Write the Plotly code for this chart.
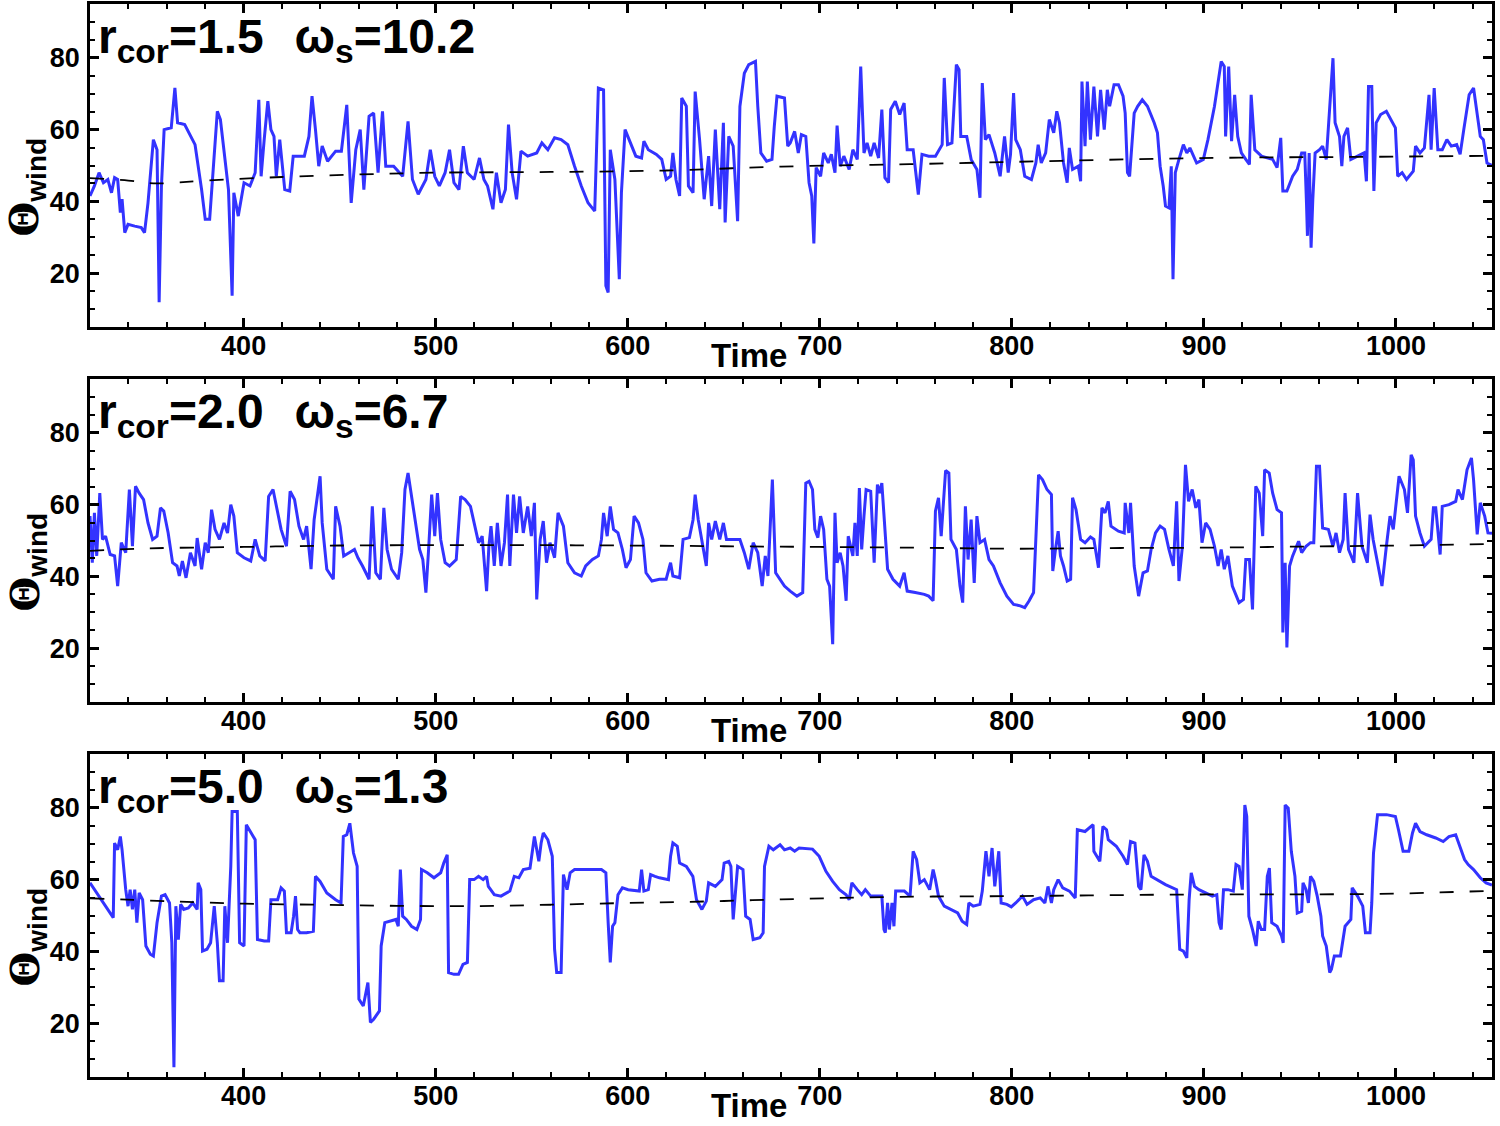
import plotly.graph_objects as go

# ---------------- data ----------------
t1 = [320,322.3,324.7,327,329.3,331.2,332.8,334.4,335.8,336.7,338.1,339.8,343.3,346.7,348.4,350.2,353,354.9,356,357.2,
      358.6,362.3,364.2,365.6,369.3,374.7,378.1,380,382.3,384.2,386.3,387.9,389.8,392.1,394,394.9,397.2,400.2,403.3,406,
      407.9,409.1,410.7,412.6,414.2,415.8,417,418.8,421.4,424,425.8,431.6,434,435.6,437.4,439.1,440.9,443.7,447.9,450.9,
      453.7,456,458.4,460.7,462.6,465.3,467.7,470,472.3,474,478.1,482.8,485.6,487.9,490.9,494.9,497.2,499.5,501.9,504.9,
      507.2,509.5,512.1,514.4,516.5,520,522.8,525.1,527,529.8,531.6,534,536.3,537.9,539.8,542.1,544.4,547.9,552.6,555.3,
      558.4,561.9,565.3,568.8,572.3,575.8,579.3,582.8,584.7,587.4,588.6,589.8,590.9,593.3,595.6,596.7,598.6,601.4,604.2,607.2,
      608.4,610.7,614.9,617.7,620,622.3,623.5,625.1,627,628.1,630.5,631.6,634,635.1,637.4,639.8,642.1,643.7,645.6,647.9,
      649.8,650.7,652.6,654.9,657.2,658.4,660.7,663,666.5,667.7,669.3,672.3,675.1,676.3,677.7,681.6,683.3,
      684.6,686.9,688.8,690.4,692.7,694.4,695.8,696.9,698.1,700.4,702,704.4,706,707.9,709,710.6,712.5,715.3,717.2,719.5,
      721.3,723,724.6,726.5,728.3,730.6,732.3,733.9,735.8,736.9,739.3,741.6,743.9,745.5,748.6,750.2,751.3,753.2,756.7,760.2,
      763.7,764.8,766.5,768.8,771.1,772.5,773.4,776.5,778.8,781.8,783.4,784.6,786.2,788.1,791.1,793.9,796.2,798.1,799.3,800.9,
      802,804.4,806.7,810.2,812.5,813.7,815.3,817.6,819.5,821.8,823.4,824.8,826.9,828.8,829.9,831.6,834.6,835.8,836.5,838.1,
      839.3,840.9,842.7,844.6,846.2,848.1,849.7,850.9,853.2,855.5,857.9,859,860.2,861.3,862.5,863.7,865.5,867.9,870.6,874.1,
      875.8,877.2,878.8,880,881.8,883,883.9,885.1,887,889.3,891.1,892.7,896.2,899.7,902.1,905.5,909,910.6,911.3,912.9,
      914.4,916,917.6,919.5,921.8,923.7,924.6,926.5,930,935.8,938.1,940,941.1,943.2,946.2,948.6,950.9,952.5,953.4,953.9,
      954.8,955.8,956.7,957.9,960.2,961.8,963.7,965.5,967.2,968.3,970.6,971.8,972.9,974.8,976.5,980,983.4,984.6,985.7,987.4,
      988.5,989.7,992,995,997.4,999.7,1000.9,1003.2,1005.5,1009,1010.2,1012.5,1014.8,1017.2,1018.3,1019.9,1021.8,1024.1,1026.5,1028.8,
      1031.6,1033.4,1035.3,1038.1,1040.4,1042.3,1043.9,1045.5,1047.4,1050]
v1 = [41.5,44.3,48.0,45.2,46.1,42.4,46.6,46.1,36.9,40.6,31.3,33.6,33.1,32.7,31.3,39.6,57.2,54.4,11.9,44.3,
      60,60.5,71.6,61.9,61.4,55.8,43.3,35,35,49.8,65.1,62.8,54.4,43.3,13.7,42.4,35.9,45.2,44.3,48,
      68.3,47,57.2,67.9,60,58.1,47,57.2,43.3,42.9,52.6,52.6,58.1,69.3,60,49.8,55.4,51.2,54,54,
      66.9,39.6,54.4,60,43.3,63.7,64.6,48,65.1,49.8,49.8,47,62.3,46.1,42,46.1,54.4,47,44.3,48,
      54.4,45.2,43.3,55.4,48,46.1,52.1,46.1,44.3,37.8,48,39.6,43.3,61.4,48,40.6,54,52.6,53.5,56.3,
      54.4,57.7,57.2,55.8,49.8,44.3,39.6,37.3,71.6,71.1,16.5,14.6,54.4,46.1,18.3,42.4,60,56.3,52.6,52.1,
      56.8,54.4,53.1,51.7,46.1,47,53.5,46.1,41.5,68.8,66.5,44.3,42.4,70.6,57.2,40.6,52.6,38.7,60,37.8,
      61.9,34.1,58.1,55.4,34.5,66.5,75.7,78.1,79,66.5,53.5,51.2,51.7,60.9,69.3,68.8,55.4,
      56.3,59.5,53.5,58.6,58.1,45.2,41.5,28.3,49.4,47,53.5,50.7,53.1,48,61.1,49.8,52.6,48.9,54.4,51.7,
      77.6,53.5,56.3,52.6,56.3,52.1,65.6,46.6,45.2,65.6,67.9,64.2,67.4,54.4,54.4,47,41.9,53.1,52.6,52.6,
      55.8,74.4,55.8,56.3,78.1,76.7,58.1,58.1,51.7,48.9,41,73,57.2,58.6,53.5,47,58.1,48,53.1,70.2,
      57.2,54.4,47,46.1,50.7,55.8,50.7,53.5,62.8,59.1,65.1,61.9,50.7,45.2,54.9,48.9,49.8,45.6,73.4,55.4,
      73.4,57.2,72,58.1,71.1,60,71.1,66.5,72.5,72.5,69.3,64.6,48,47,57.2,64.6,66.5,68.3,66.5,61.9,
      59.1,49.8,44.3,38.7,38.2,49.8,18.3,48,51.7,55.8,53.5,54.9,50.7,51.7,57.2,66.5,79,77.6,58.1,77.6,
      56.8,69.7,58.1,53.5,51.7,50.3,69.7,54.4,52.6,51.7,49.4,57.7,42.9,42.9,47,48.9,53.5,53.5,39.6,30.4,
      53.5,27.1,40.6,53.5,54.4,55.4,51.7,66.5,79.9,61.9,58.1,49.8,58.1,60.5,51.7,52.6,53.5,45.6,72,72,
      42.9,61.9,64.2,65.1,62.8,60.5,47,48,46.1,48.4,55.4,53.5,54.9,69.7,54.4,71.6,54.4,54.4,57.2,55.4,
      55.8,53.1,60,69.7,71.6,63.7,58.1,57.2,50.7,50]

t2 = [320,321.2,322.3,323.5,325.1,326.5,328.1,330.5,332.8,334.4,336.3,338.6,340.5,342.1,343.7,345.6,347.9,350.2,352.6,354.9,
      356.7,358.4,360.7,363,365.3,366.5,368.1,370,372.3,374.7,375.8,378.1,380,381.6,383.3,385.1,387.4,389.8,391.6,393.3,
      394.9,396.7,400.2,403.7,406,408.4,411.2,413,415.3,417.2,419.5,422.3,424.2,426.5,428.8,431.2,432.8,435.1,436.7,438.6,
      439.8,440.9,443.3,446.7,447.9,450.2,452.1,454.9,457.7,459.5,461.9,465.3,467,468.8,471.2,473,474.7,477,480.5,482.3,
      484,485.6,487.4,489.3,491.6,493.3,494.9,496.3,497.9,499.5,500.9,502.6,504.9,507.2,510.7,513,515.3,518.1,520.5,522.3,
      524.2,526.5,527.7,528.8,530.5,532.1,534,535.8,537.4,538.6,540.5,542.1,543.7,545.6,547.9,549.8,551.4,552.6,554.4,556,
      557.7,559.5,561.9,563.7,566.5,568.8,572.3,575.8,578.1,581.6,584.7,586.3,587.4,589.3,590.9,592.6,594.9,597.2,599.1,601.4,
      603.3,605.6,607.9,609.5,612.6,616.5,620,622.3,623.5,627,628.8,632.1,634,635.1,636.7,638.6,640.9,642.1,643.7,645.6,
      647.9,649.8,651.4,654.9,658.4,660.7,663,665.3,667.7,670,671.6,673,675.3,677,679.3,681.6,
      684.6,688.1,691.1,692.7,694.4,696.2,697.4,699,700.4,702,703.7,705.1,706.7,707.9,709,710.6,712.1,713.7,714.8,717.2,
      718.3,719.5,720.6,721.8,723,724.1,726.5,728.3,730,731.1,732.3,733.9,735.3,738.1,741.6,743.9,745.5,749.7,754.4,756.7,
      759,760.2,761.8,763.2,764.4,765.5,767.2,768.3,771.1,773,774.4,775.8,777.2,778.8,780.4,781.8,783.4,785.8,788.1,790.4,
      793.9,797.4,800.9,804.4,806.7,809,811.3,812.5,813.9,816,818.3,820.6,821.3,822.7,824.1,825.3,826.9,828.8,830.6,831.6,
      833.4,835.8,838.1,840.9,842.7,845.1,846.9,848.5,850.2,851.6,855.5,858.5,859,860.9,861.8,863.7,866,868.3,870.6,872.5,
      874.8,877.2,879.5,881.8,884.1,885.8,887,888.8,890.4,892,893.9,895.8,897.4,899,900.9,903.2,905.5,907.4,909,910.6,
      912.5,914.8,918.3,920.6,921.8,923.7,925.3,927,928.8,930.6,931.6,934,935.8,938.1,940.4,941.1,942.3,943.2,944.6,946.2,
      949.3,950.9,953.2,955.5,957.2,958.6,960.2,961.8,964.8,967.2,968.8,970.6,972.5,973.5,975.3,978.1,980,982.3,985.1,986.5,
      988.1,990.4,992.7,995,996.9,998.6,1000.4,1001.6,1004.4,1006,1007.9,1009,1010.2,1012.5,1014.8,1018.3,1019.5,1020.7,1023,1024.1,
      1027.6,1031.1,1032.3,1034.6,1037,1039.3,1040.4,1042.3,1043.9,1046.2,1047.9,1050]
v2 = [56.8,43.8,57.7,45.7,63.2,50.3,51.2,46.1,45.7,37.3,49.4,46.6,64.2,48.4,65.1,63.2,61.4,54.9,50.3,51.2,
      59.1,58.2,52.1,43.8,42.9,40.1,44.3,39.6,46.6,42.9,50.7,42,49.4,46.6,58.6,53.1,50.3,54.9,52.1,60,
      56.8,46.6,45.2,44.3,50.3,45.7,44.3,62.3,64.2,59.5,53.1,48.4,63.7,61.4,54,50.3,54,42,55.8,63.2,
      67.9,54.9,42,39.2,59.5,54,45.7,46.6,47.5,45.2,42.9,39.2,59.5,41,39.2,59.1,47.5,42,39.2,46.6,
      64.2,68.8,62.3,54.9,47.5,44.7,35.5,47.5,62.8,51.2,63.2,50.3,43.8,42.9,44.7,62.3,61.4,59.5,54,49.4,
      51.2,35.9,48.4,54,42.9,54.9,42.9,49.4,62.8,42.9,62.8,52.1,62.3,52.1,59.5,51.2,60.5,33.6,50.3,55.4,
      43.8,49.4,45.2,57.7,54,43.8,41,40.1,42.9,44.7,45.7,50.3,57.7,51.2,59.5,53.1,52.1,47.5,42.4,44.7,
      56.8,54.9,50.3,41,38.7,39.2,39.2,43.8,40.1,39.6,50.3,50.8,55.8,62.8,55.8,49.4,42.9,54.9,50.3,55.4,
      50.3,54.9,50.3,50.3,50.3,46.6,42,49.4,46.6,37.3,45.7,40.1,67,41,39.2,37.3,
      35.9,34.5,35.5,66,66.5,64.2,53.1,50.8,56.8,53.1,39.2,37.3,21.1,57.7,43.8,46.6,42.9,33.2,51.2,45.7,
      54.9,45.7,64.6,47.5,56.8,64.2,63.7,43.8,65.6,63.2,66,53.1,42,39.2,37.3,41,35.9,35.5,35,34.5,
      33.2,58.2,61.9,51.2,61.4,69.5,68.8,50.3,47.5,37.3,32.7,59.5,44.7,55.8,38.2,56.8,49.4,50.3,44.7,42.9,
      38.2,34.5,32.2,31.8,31.3,33.2,35.5,52.1,68.3,66.9,64.2,62.8,41.5,47.5,52.6,45.7,42.9,38.7,39.2,61.9,
      58.6,50.3,49.4,51,50.3,42.4,59.1,57.7,60.9,54,52.6,52.1,60.5,52.1,60.5,42.9,34.5,41,41.5,47.5,
      52.1,54,53.1,47.5,42.9,60.9,38.7,48.4,71.1,60.9,64.2,59.1,61.4,49.4,54.9,53.1,48.4,42.9,47.5,42,
      45.7,37.3,32.7,33.6,44.7,44.7,30.8,65.1,63.2,51.2,69.7,68.8,63.2,58.6,57.7,24.4,43.8,20.2,42.9,45.7,
      49.8,46.6,48.4,49.4,49.4,70.7,70.7,53.5,53.1,48.4,52.1,46.6,50.3,63.2,47.5,43.8,63.2,48.4,43.8,57.2,
      50.3,43.8,37.3,48.4,56.8,53.1,61.4,67.9,64.2,57.7,73.9,72.5,56.8,52.1,48.4,50.3,59.1,59.1,46.1,59.5,
      60,60.9,64.2,61.4,69.7,73,66.9,51.7,60.5,56.8,52.1,52]

t3 = [320,323.5,327,329.3,332.1,332.8,334.4,335.8,336.7,338.6,339.8,340.9,342.1,343.3,344.4,345.6,347.4,349.1,351.4,353,
      354.9,357.2,359.1,361.4,362.6,363.7,364.7,366,367.2,368.8,371.2,373.5,375.8,376.3,377.7,378.6,380.9,382.8,384.7,386.3,
      387.4,389.3,390.2,391.6,393.3,394,396.7,397.9,400.2,401.4,403.7,406,407.2,410.7,413,414.2,417.7,419.5,421.2,422.3,
      424.7,426,427,428.1,429.3,432.8,436.3,437.4,439.8,443.3,447.9,450.7,451.9,453.7,455.3,457.2,459.1,460,462.3,463.5,
      464.7,466,467.7,470.7,471.6,473.5,476.3,479.3,480.5,481.6,482.8,484.7,487.4,490.2,492.1,492.6,495.6,499.1,502.6,504.2,
      506,506.7,509.5,511.9,514.2,516.5,517.7,520,522.3,524.7,526.5,527.4,530.5,534,538.6,540.9,543.3,545.6,549.1,551.4,
      553.7,554.9,556,558.4,560.7,561.9,563,565.3,566.5,568.4,570,572.3,586.3,588.6,589.8,590.9,592.1,593.3,594.9,597.2,
      600.2,606,607.2,608.4,610.7,611.9,614.2,616.5,621.2,622.3,623.5,625.8,627,630.5,633.9,635.8,638.6,640.9,642.1,645.6,
      649.1,650.2,652.6,653.7,654.9,656,657.2,660,661.4,663.7,665.3,668.8,670.5,671.2,673.5,675.8,679.3,681.6,
      684.6,686.9,689.2,696.2,699.7,703.2,706.7,710.2,713.7,715.3,716.7,719.5,721.8,723.7,726.5,732.3,733.4,734.1,735.3,736.2,
      737.6,738.6,739.5,744,747,748.6,750.4,752.1,754.4,757.2,759,760.2,761.8,764.8,768.3,771.8,774.1,776.5,777.6,779.9,
      783.4,784.6,786.5,788.1,789.7,791.1,793.2,794.4,797.4,799.7,802,805.5,807.9,811.3,814.8,817.2,818.8,820.6,821.8,824.1,
      826.5,830,833,834.1,838.1,840.9,842.3,842.7,845.8,847.4,849.3,850.2,854.4,857.9,860.2,861.8,864.1,866,867.2,868.8,
      870.6,872.5,875.3,880,885.8,886.9,887.4,889.3,891.1,892.3,893.4,895.1,897.4,900.9,904.4,906.7,907.9,909,910.2,912.5,
      915.3,916.7,918.3,920,921.3,922.3,923.4,925.3,927.2,928.3,929.9,931.6,933,934.1,935.3,938.1,940.4,941.3,942.3,943.9,
      945.5,947.4,948.6,950.9,951.6,953.2,954.4,955.5,957.2,959,960.9,961.8,963.7,965.5,966.4,967.9,971.1,973.5,976.5,977.2,
      980,982.7,984.1,986.5,987.4,988.3,990.4,995.1,999.7,1001.3,1003.7,1006.7,1008.6,1010.2,1012.5,1016,1020.7,1024.6,1027.6,1031.1,
      1033.4,1035.7,1037.6,1040.4,1043.9,1046.9,1050]
v3 = [59.1,56.3,53.5,51.7,49.4,70.2,68.3,72,68.3,57.2,52.6,57.2,51.7,57.2,48,56.3,54.4,41.5,39.2,38.7,
      48,55.4,55.8,53.5,42.4,7.7,52.6,43.3,53.1,51.7,52.1,53.5,51.7,59.1,57.2,40.1,40.6,42.4,52.6,42.4,
      31.8,31.8,52.6,42.4,63.7,79,79,42.4,41.5,75.3,73,71.1,43.3,42.9,42.9,54.4,54.4,57.7,56.8,45.2,
      45.2,49.8,55.4,46.1,45.2,45.2,45.6,60.9,59.5,56.3,54.4,53.5,72,72.5,75.7,67.4,63.7,26.7,24.8,27.6,
      31.3,20.2,21.1,23.4,41.5,48,48.4,48.9,47,62.8,49.8,48.9,47,46.1,48.9,62.8,61.9,60.5,61.9,64.6,
      66.9,34.1,33.6,33.6,36.4,36.9,60,60,60.9,60,60.9,58.1,55.8,55.4,56.8,60.9,60.5,62.8,63.2,72,
      65.1,70.2,73,71.1,66.5,40.6,34.1,34.1,61.4,57.2,61.9,62.8,62.8,61.9,48,36.9,47,48,55.8,57.7,
      57.2,56.8,62.8,56.8,57.2,61.4,60.9,60.5,60,66.5,70.2,69.3,64.6,63.7,60.9,54.4,51.7,54,59.1,58.1,
      60,64.6,65.1,63.7,48.9,56.3,63.7,62.8,49.8,48.9,43.3,43.8,45.2,63.7,69.3,68.3,69.7,68.3,
      68.8,67.9,68.8,68.5,66.5,62.3,59.5,57.2,55.8,54.4,59.1,57.2,55.8,57.2,55.4,55.4,46.1,45.2,53.5,46.1,
      53.5,47,56.8,56.8,55.4,67.9,65.6,59.1,60,57.2,62.8,60,55.4,52.6,51.7,50.7,48.4,47.5,53.5,52.6,
      53.1,56.8,67.9,60.9,68.8,58.1,67.9,53.5,53.1,52.4,53.5,55.4,53.1,54.4,54.9,53.5,58.1,53.5,57.2,60,
      57.7,56.8,54.9,73.9,73.4,74.8,75.3,67.9,65.1,74.8,73.9,71.1,69.3,66.5,64.2,70.6,70.2,58.1,57.2,66.9,
      65.1,60.9,60,58.6,57.2,48,40.6,40.1,38.2,54.4,61.9,58.1,57.2,56.3,55.4,55.8,48,46.1,57.2,57.2,
      56.8,64.2,63.7,57.2,80.8,77.6,49.8,46.1,41.5,48.4,46.1,46.1,60.9,63.2,48,47,44.3,42.4,80.8,79.9,
      67.9,60.9,50.7,51.2,59.1,57.2,53.5,60.9,59.5,55.4,49.8,44.3,41.5,34.1,35,38.7,38.7,47,48.9,57.7,
      55.4,52.6,45.2,45.2,53.5,67.4,78.1,78.1,77.6,73.9,67.9,67.9,73,75.7,73.4,72.5,71.6,70.6,72,72.5,
      69.3,65.6,64.2,62.8,60.5,59.1,58.5]

trend_t1 = [320, 340, 355, 380, 420, 460, 500, 560, 620, 680, 740, 800, 860, 920, 980, 1050]
trend_v1 = [46.5, 45.8, 45.0, 45.8, 46.8, 47.5, 48.0, 48.2, 48.6, 49.7, 50.3, 51.0, 51.7, 52.2, 52.4, 52.7]
trend_t2 = [320, 350, 400, 450, 500, 550, 600, 650, 700, 750, 800, 850, 900, 950, 1000, 1050]
trend_v2 = [47.1, 47.8, 48.2, 48.6, 48.7, 48.7, 48.6, 48.4, 48.2, 48.0, 47.7, 47.9, 48.0, 48.3, 48.6, 49.0]
trend_t3 = [320, 360, 400, 440, 480, 520, 560, 600, 640, 680, 720, 760, 800, 840, 880, 920, 960, 1000, 1050]
trend_v3 = [54.8, 54.0, 53.3, 53.0, 52.7, 52.6, 53.0, 53.5, 53.9, 54.5, 55.0, 55.3, 55.4, 55.6, 55.8, 55.9, 55.9, 56.1, 56.9]

r_cor = ["1.5", "2.0", "5.0"]
omega_s = ["10.2", "6.7", "1.3"]
x_ticks = [400, 500, 600, 700, 800, 900, 1000]
y_ticks = [20, 40, 60, 80]

# ---------------- figure ----------------
W, H = 1500, 1126
ml, mr, mt, mb = 90, 8, 4, 49
plot_h = H - mt - mb
plot_w = W - ml - mr
panels_px = [(4, 327), (379, 702), (754, 1077)]

fig = go.Figure()
series = [(t1, v1, trend_t1, trend_v1), (t2, v2, trend_t2, trend_v2), (t3, v3, trend_t3, trend_v3)]
FONT = "Liberation Sans"
ytitle = ("<span style=\"font-family:'DejaVu Serif'\">Θ</span>"
          "<sub>wind</sub>")

for i, ((t, v, tt, tv), (top, bot)) in enumerate(zip(series, panels_px)):
    n = i + 1
    xa = "x" if n == 1 else f"x{n}"
    ya = "y" if n == 1 else f"y{n}"
    fig.add_trace(go.Scatter(x=t, y=v, mode="lines", xaxis=xa, yaxis=ya,
                             line=dict(color="#3333FF", width=3), showlegend=False))
    fig.add_trace(go.Scatter(x=tt, y=tv, mode="lines", xaxis=xa, yaxis=ya,
                             line=dict(color="black", width=1.8, dash="14px,16px"),
                             line_shape="spline", showlegend=False))
    d0 = (H - mb - bot) / plot_h
    d1 = (H - mb - top) / plot_h
    axis_common = dict(showline=True, linecolor="black", linewidth=2.5, mirror="allticks",
                       ticks="inside", ticklen=9, tickwidth=2.5, tickcolor="black",
                       showgrid=False, zeroline=False,
                       tickfont=dict(family=FONT, size=27, color="black", weight="bold"))
    xkey = "xaxis" if n == 1 else f"xaxis{n}"
    ykey = "yaxis" if n == 1 else f"yaxis{n}"
    fig.layout[xkey] = dict(axis_common, range=[320, 1050], anchor=ya, domain=[0, 1],
                            tickvals=x_ticks, ticklabelstandoff=-7,
                            minor=dict(dtick=20, tick0=0, ticks="inside", ticklen=5, tickwidth=1.5, tickcolor="black"))
    fig.layout[ykey] = dict(axis_common, range=[5, 95], anchor=xa, domain=[d0, d1],
                            tickvals=y_ticks, ticklabelstandoff=2,
                            minor=dict(dtick=5, tick0=0, ticks="inside", ticklen=5, tickwidth=1.5, tickcolor="black"))
    # y-axis title (rotated), placed left of tick labels
    cy = (top + bot) / 2 + 22
    fig.add_annotation(text=ytitle, xref="paper", yref="paper",
                       x=(26 - ml) / plot_w, y=(H - mb - cy) / plot_h,
                       xanchor="center", yanchor="middle", textangle=-90, showarrow=False,
                       font=dict(family=FONT, size=40, color="black", weight="bold"))
    fig.add_annotation(text=f"r<sub>cor</sub>={r_cor[i]}\u00a0\u00a0\u200aω<sub>s</sub>={omega_s[i]}",
                       xref=f"{xa} domain", yref=f"{ya} domain", x=0.004, y=1.0,
                       xanchor="left", yanchor="top", showarrow=False, yshift=-4,
                       font=dict(family=FONT, size=48, color="black", weight="bold"))
    fig.add_annotation(text="Time", xref=xa, yref=f"{ya} domain", x=684, y=0,
                       xanchor="right", yanchor="top", showarrow=False, yshift=-8,
                       font=dict(family=FONT, size=33, color="black", weight="bold"))

fig.update_layout(width=W, height=H, margin=dict(l=ml, r=mr, t=mt, b=mb, autoexpand=False),
                  plot_bgcolor="white", paper_bgcolor="white", showlegend=False)

fig.write_html("out.html")
